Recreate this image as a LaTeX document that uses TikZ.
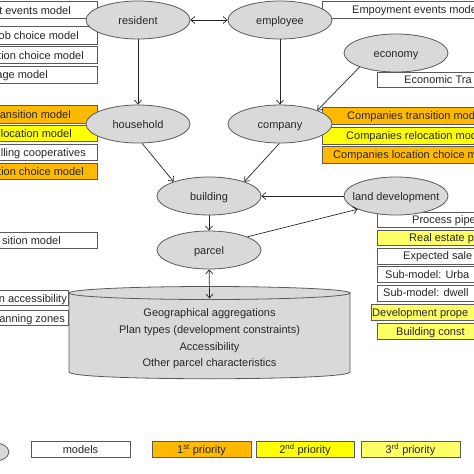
\documentclass[tikz,border=0pt]{standalone}
\usepackage{fontspec}
\setmainfont{Liberation Sans}
\usetikzlibrary{arrows.meta,shapes.geometric}
\definecolor{ellfill}{HTML}{D9D9D9}
\definecolor{edge}{HTML}{5A5A5A}
\definecolor{pri1}{HTML}{FFB900}
\definecolor{pri2}{HTML}{FFFF00}
\definecolor{pri3}{HTML}{FFFF66}
\definecolor{ink}{HTML}{262626}
\begin{document}
\begin{tikzpicture}[x=1pt,y=-1pt,
  ent/.style={ellipse, draw=edge, fill=ellfill, line width=0.8pt, minimum width=104pt, minimum height=38pt, inner sep=0pt, font=\fontsize{11}{13}\selectfont, text=ink, text height=8pt, text depth=0pt},
  mbox/.style={rectangle, draw=edge, line width=0.8pt, fill=white, inner sep=0pt, font=\fontsize{11}{13}\selectfont, text=ink, text height=8pt, text depth=0pt},
  lbl/.style={font=\fontsize{11}{13}\selectfont, text=ink, inner sep=0pt, text height=8pt, text depth=0pt},
  con/.style={draw=ink, line width=0.7pt, -{Straight Barb[length=4pt,width=7pt]}},
  con2/.style={draw=ink, line width=0.7pt, {Straight Barb[length=4pt,width=7pt]}-{Straight Barb[length=4pt,width=7pt]}}]
\useasboundingbox (0,0) rectangle (474,474);
\clip (0,0) rectangle (474,474);
\fill[white] (0,0) rectangle (474,474);

% left boxes
\node[mbox, anchor=north west, minimum width=127pt, minimum height=16.5pt] (lb1) at (-30,1) {};
\node[mbox, anchor=north west, minimum width=127pt, minimum height=8.5pt] (lb1b) at (-30,17.5) {};
\node[mbox, anchor=north west, minimum width=127pt, minimum height=18pt] (lb2) at (-30,26) {};
\node[mbox, anchor=north west, minimum width=127pt, minimum height=17pt] (lb3) at (-30,46) {};
\node[mbox, anchor=north west, minimum width=127pt, minimum height=17pt] (lb4) at (-30,66) {};
\node[mbox, fill=pri1, anchor=north west, minimum width=127pt, minimum height=18pt] (lb5) at (-30,105) {};
\node[mbox, fill=pri2, anchor=north west, minimum width=127pt, minimum height=16.5pt] (lb6) at (-30,124.5) {};
\node[mbox, anchor=north west, minimum width=127pt, minimum height=16pt] (lb7) at (-30,143.5) {};
\node[mbox, fill=pri1, anchor=north west, minimum width=127pt, minimum height=16pt] (lb8) at (-30,162.5) {};
\node[mbox, anchor=north west, minimum width=127pt, minimum height=15.5pt] (lb9) at (-30,232) {};
\node[mbox, anchor=north west, minimum width=98pt, minimum height=15pt] (lb10) at (-30,290) {};
\node[mbox, anchor=north west, minimum width=98pt, minimum height=15.5pt] (lb11) at (-30,309.5) {};

\node[lbl, anchor=east] (tl1) at (71,10) {t events model};
\node[lbl, anchor=east] (tl2) at (79,35) {ob choice model};
\node[lbl, anchor=east] (tl3) at (84,55) {tion choice model};
\node[lbl, anchor=east] (tl4) at (48,74) {age model};
\node[lbl, anchor=east] (tl5) at (71,114) {ansition model};
\node[lbl, anchor=east] (tl6) at (72,133) {llocation model};
\node[lbl, anchor=east] (tl7) at (86,152) {lling cooperatives};
\node[lbl, anchor=east] (tl8) at (84,171) {tion choice model};
\node[lbl, anchor=east] (tl9) at (61,240) {sition model};
\node[lbl, anchor=east] (tl10) at (67,298) {n accessibility};
\node[lbl, anchor=east] (tl11) at (65,318) {anning zones};

% right boxes
\node[mbox, anchor=north west, minimum width=250pt, minimum height=17pt] (rb1) at (322,1) {};
\node[mbox, anchor=north west, minimum width=250pt, minimum height=14.5pt] (rb2) at (377,72) {};
\node[mbox, fill=pri1, anchor=north west, minimum width=250pt, minimum height=17pt] (rb3) at (322,107) {};
\node[mbox, fill=pri2, anchor=north west, minimum width=250pt, minimum height=17pt] (rb4) at (322,126.5) {};
\node[mbox, fill=pri1, anchor=north west, minimum width=250pt, minimum height=17pt] (rb5) at (322,146) {};
\node[mbox, anchor=north west, minimum width=250pt, minimum height=15pt] (rb6) at (377,212) {};
\node[mbox, fill=pri3, anchor=north west, minimum width=250pt, minimum height=15.5pt] (rb7) at (377,229.5) {};
\node[mbox, anchor=north west, minimum width=250pt, minimum height=15.5pt] (rb8) at (377,248) {};
\node[mbox, anchor=north west, minimum width=250pt, minimum height=16pt] (rb9) at (377,266) {};
\node[mbox, anchor=north west, minimum width=250pt, minimum height=16pt] (rb10) at (377,284.5) {};
\node[mbox, fill=pri3, anchor=north west, minimum width=250pt, minimum height=16pt] (rb11) at (371,304) {};
\node[mbox, fill=pri3, anchor=north west, minimum width=250pt, minimum height=16pt] (rb12) at (377,323) {};

\node[lbl, anchor=west] (tr1) at (352,9.5) {Empoyment events model};
\node[lbl, anchor=west] (tr2) at (404,79) {Economic Tra};
\node[lbl, anchor=west] (tr3) at (347,115.5) {Companies transition mod};
\node[lbl, anchor=west] (tr4) at (346,135) {Companies relocation mod};
\node[lbl, anchor=west] (tr5) at (333,154.5) {Companies location choice m};
\node[lbl, anchor=west] (tr6) at (412,219.5) {Process pipe};
\node[lbl, anchor=west] (tr7) at (409,237) {Real estate p};
\node[lbl, anchor=west] (tr8) at (403,255.5) {Expected sale};
\node[lbl, anchor=west] (tr9) at (385,274) {Sub-model: Urba};
\node[lbl, anchor=west] (tr10) at (383,292.5) {Sub-model: dwell};
\node[lbl, anchor=west] (tr11) at (372,312) {Development prope};
\node[lbl, anchor=west] (tr12) at (396,331) {Building const};

% database cylinder
\filldraw[draw=edge, fill=ellfill, line width=0.8pt] (69,293) -- (69,372) .. controls (69,381) and (350,381) .. (350,372) -- (350,293) -- cycle;
\filldraw[draw=edge, fill=ellfill, line width=0.8pt] (209.5,293) ellipse [x radius=140.5, y radius=6.5];
\coordinate (dbtop) at (209.5,298.5);
\node[lbl, align=center, font=\fontsize{11}{16.6}\selectfont, text height=, text depth=] (dbtext) at (209.5,339) {Geographical aggregations\\Plan types (development constraints)\\Accessibility\\Other parcel characteristics};

% entities
\node[ent] (resident) at (138,20) {resident};
\node[ent] (employee) at (280,20) {employee};
\node[ent] (economy) at (396,53) {economy};
\node[ent] (household) at (138,124) {household};
\node[ent] (company) at (280,124) {company};
\node[ent] (building) at (209,196) {building};
\node[ent, inner xsep=-12pt] (landdev) at (396,196) {land development};
\node[ent] (parcel) at (209,250) {parcel};

% connectors
\draw[con2] (resident) -- (employee);
\draw[con] (resident) -- (household);
\draw[con] (employee) -- (company);
\draw[con] (economy.201) -- (company.20);
\draw[con] (household.282) -- (building.158);
\draw[con] (company.268) -- (building.22);
\draw[con] (landdev) -- (building);
\draw[con] (parcel.19) -- (landdev.199);
\draw[con] (building) -- (parcel);
\draw[con2] (parcel) -- (dbtop);

% legend
\node[ent, minimum width=38pt, minimum height=20pt] (legent) at (-10,452) {};
\node[mbox, minimum width=99pt, minimum height=16pt] (legm) at (80.5,449) {models};
\node[mbox, fill=pri1, minimum width=99pt, minimum height=16pt] (leg1) at (201.5,449) {1\textsuperscript{st} priority};
\node[mbox, fill=pri2, minimum width=98pt, minimum height=16pt] (leg2) at (305,449) {2\textsuperscript{nd} priority};
\node[mbox, fill=pri3, minimum width=99pt, minimum height=16pt] (leg3) at (410.5,449) {3\textsuperscript{rd} priority};
\end{tikzpicture}
\end{document}
